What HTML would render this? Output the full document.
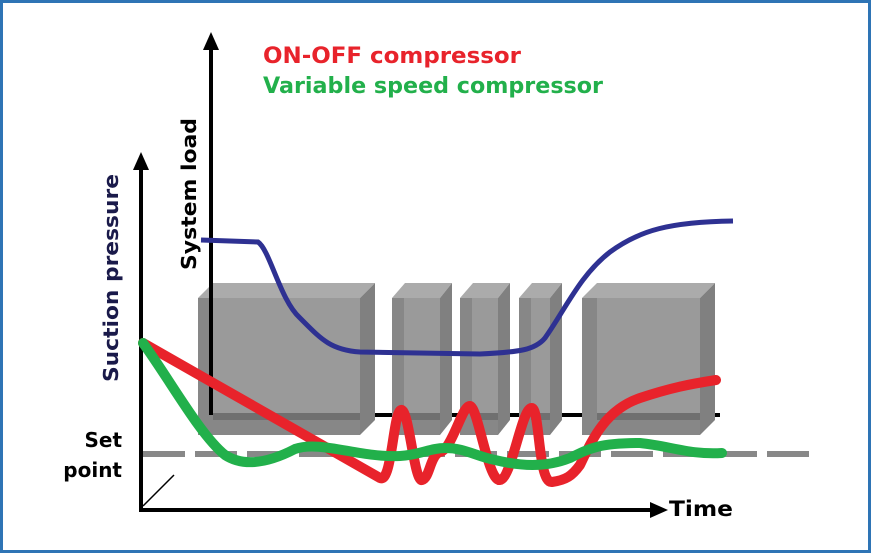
<!DOCTYPE html>
<html><head><style>
html,body{margin:0;padding:0;background:#fff}
svg{display:block}
text{font-family:"DejaVu Sans","Liberation Sans",sans-serif;font-weight:bold}
</style></head><body>
<svg width="872" height="554" viewBox="0 0 872 554" xmlns="http://www.w3.org/2000/svg">
<rect x="1.5" y="1.5" width="868" height="550" fill="#fff" stroke="#2e74b5" stroke-width="3"/>
<line x1="143" y1="454" x2="810" y2="454" stroke="#888" stroke-width="6" stroke-dasharray="42 10"/>
<line x1="210" y1="415" x2="720" y2="415" stroke="#000" stroke-width="4"/>
<g>
<polygon points="198,298 213,283 375,283 360,298" fill="#ababab"/>
<rect x="198" y="298" width="15" height="137" fill="#878787"/>
<rect x="213" y="298" width="147" height="137" fill="#9a9a9a"/>
<polygon points="360,298 375,283 375,420 360,435" fill="#808080"/>
<rect x="213" y="413" width="147" height="7" fill="#707070"/>
<rect x="213" y="420" width="147" height="15" fill="#878787"/>
</g>
<g>
<polygon points="392,298 405,283 452,283 440,298" fill="#ababab"/>
<rect x="392" y="298" width="12" height="137" fill="#878787"/>
<rect x="404" y="298" width="36" height="137" fill="#9a9a9a"/>
<polygon points="440,298 452,283 452,420 440,435" fill="#808080"/>
<rect x="404" y="413" width="36" height="7" fill="#707070"/>
<rect x="404" y="420" width="36" height="15" fill="#878787"/>
</g>
<g>
<polygon points="460,298 473,283 510,283 498,298" fill="#ababab"/>
<rect x="460" y="298" width="12" height="137" fill="#878787"/>
<rect x="472" y="298" width="26" height="137" fill="#9a9a9a"/>
<polygon points="498,298 510,283 510,420 498,435" fill="#808080"/>
<rect x="472" y="413" width="26" height="7" fill="#707070"/>
<rect x="472" y="420" width="26" height="15" fill="#878787"/>
</g>
<g>
<polygon points="519,298 532,283 562,283 550,298" fill="#ababab"/>
<rect x="519" y="298" width="12" height="137" fill="#878787"/>
<rect x="531" y="298" width="19" height="137" fill="#9a9a9a"/>
<polygon points="550,298 562,283 562,420 550,435" fill="#808080"/>
<rect x="531" y="413" width="19" height="7" fill="#707070"/>
<rect x="531" y="420" width="19" height="15" fill="#878787"/>
</g>
<g>
<polygon points="582,298 597,283 715,283 700,298" fill="#ababab"/>
<rect x="582" y="298" width="15" height="137" fill="#878787"/>
<rect x="597" y="298" width="103" height="137" fill="#9a9a9a"/>
<polygon points="700,298 715,283 715,420 700,435" fill="#808080"/>
<rect x="597" y="413" width="103" height="7" fill="#707070"/>
<rect x="597" y="420" width="103" height="15" fill="#878787"/>
</g>
<line x1="141" y1="512" x2="141" y2="168" stroke="#000" stroke-width="4"/>
<polygon points="141,152 133,170 149,170" fill="#000"/>
<line x1="139" y1="510" x2="655" y2="510" stroke="#000" stroke-width="4"/>
<polygon points="668,510 650,502 650,518" fill="#000"/>
<line x1="211" y1="415" x2="211" y2="48" stroke="#000" stroke-width="4"/>
<polygon points="211,32 203,50 219,50" fill="#000"/>
<line x1="143" y1="506" x2="174" y2="475" stroke="#000" stroke-width="1.5"/>
<path d="M201,240 L258,242 C270,250 280,300 300,318 C320,338 330,350 360,352 L480,354 C520,352 535,350 545,338 C565,310 580,275 610,252 C640,230 670,222 733,221" fill="none" stroke="#2e3192" stroke-width="5"/>
<path d="M143,343 L380,478 C392,484 393,412 401,410 C409,408 414,482 422,480 C430,478 430,455 440,452 C452,450 462,405 470,406 C478,407 488,482 500,480 C512,478 522,406 532,408 C540,410 538,484 552,482 C566,480 572,476 580,465 C592,440 605,410 640,398 C670,388 690,384 716,380" fill="none" stroke="#e8232b" stroke-width="10" stroke-linecap="round" stroke-linejoin="round"/>
<path d="M143,343 C170,380 200,435 225,455 C245,468 270,462 295,449 C320,440 360,458 400,456 C420,455 430,448 445,448 C465,448 475,456 495,460 C520,466 545,468 570,458 C590,448 600,443 640,443 C670,446 690,455 722,453" fill="none" stroke="#22b04b" stroke-width="10" stroke-linecap="round" stroke-linejoin="round"/>
<text x="263" y="63" fill="#e8232b" font-size="22" textLength="258" lengthAdjust="spacingAndGlyphs">ON-OFF compressor</text>
<text x="263" y="93" fill="#22b04b" font-size="22" textLength="340" lengthAdjust="spacingAndGlyphs">Variable speed compressor</text>
<text transform="translate(196,270) rotate(-90)" fill="#000" font-size="20" textLength="152" lengthAdjust="spacingAndGlyphs">System load</text>
<text transform="translate(118,382) rotate(-90)" fill="#1a1a4a" font-size="20" textLength="208" lengthAdjust="spacingAndGlyphs">Suction pressure</text>
<text x="122" y="447" fill="#000" font-size="20" text-anchor="end">Set</text>
<text x="122" y="477" fill="#000" font-size="20" text-anchor="end">point</text>
<text x="669" y="516" fill="#000" font-size="21" textLength="64" lengthAdjust="spacingAndGlyphs">Time</text>
</svg>
</body></html>
